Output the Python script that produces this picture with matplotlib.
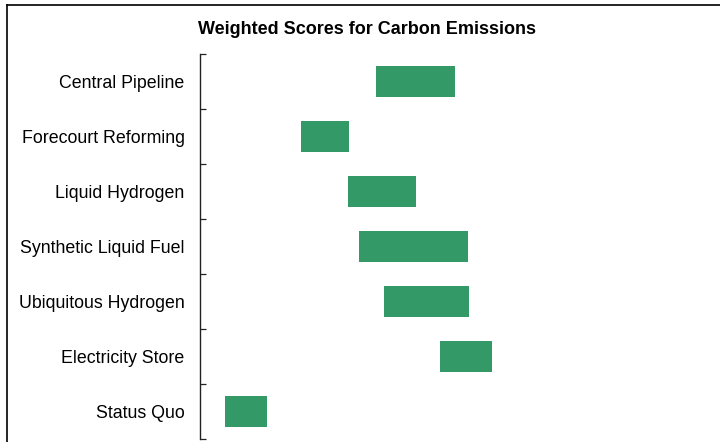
import matplotlib
matplotlib.use("Agg")
import matplotlib.pyplot as plt
from matplotlib.lines import Line2D
from matplotlib.ticker import FixedLocator

plt.rcParams['font.family'] = ['Liberation Sans', 'DejaVu Sans']

categories = ["Central Pipeline", "Forecourt Reforming", "Liquid Hydrogen",
              "Synthetic Liquid Fuel", "Ubiquitous Hydrogen", "Electricity Store",
              "Status Quo"]
score_low = [3.38, 1.94, 2.85, 3.06, 3.54, 4.62, 0.48]
score_high = [4.90, 2.87, 4.15, 5.15, 5.17, 5.62, 1.29]

W, H = 720, 442
fig = plt.figure(figsize=(W / 100, H / 100), dpi=100)
ax = fig.add_axes([200 / W, 3 / H, 520 / W, (439 - 54) / H])

y = list(range(len(categories)))
widths = [h - l for l, h in zip(score_low, score_high)]
ax.barh(y, widths, left=score_low, height=0.58, color="#339966")

ax.set_xlim(0, 10)
ax.set_ylim(len(categories) - 0.5, -0.5)
ax.set_yticks(y)
ax.set_yticklabels(categories, fontsize=12.8)
ax.yaxis.set_minor_locator(FixedLocator([i - 0.5 for i in range(len(categories) + 1)]))
ax.tick_params(axis="y", which="major", length=0, pad=11)
ax.tick_params(axis="y", which="minor", length=4.5, width=0.9, direction="in", color="#222222")
ax.set_xticks([])
for s in ("top", "right", "bottom"):
    ax.spines[s].set_visible(False)
ax.spines["left"].set_color("#222222")
ax.spines["left"].set_linewidth(1.0)

fig.text(367.5 / W, 1 - 29 / H, "Weighted Scores for Carbon Emissions",
         ha="center", va="center", fontsize=13, fontweight="bold")

# chart frame
fig.add_artist(Line2D([7 / W, 7 / W], [0, 1 - 5 / H], transform=fig.transFigure,
                      color="black", linewidth=1.2))
fig.add_artist(Line2D([7 / W, 1], [1 - 5 / H, 1 - 5 / H], transform=fig.transFigure,
                      color="black", linewidth=1.2))

fig.savefig("out.png", dpi=100)
